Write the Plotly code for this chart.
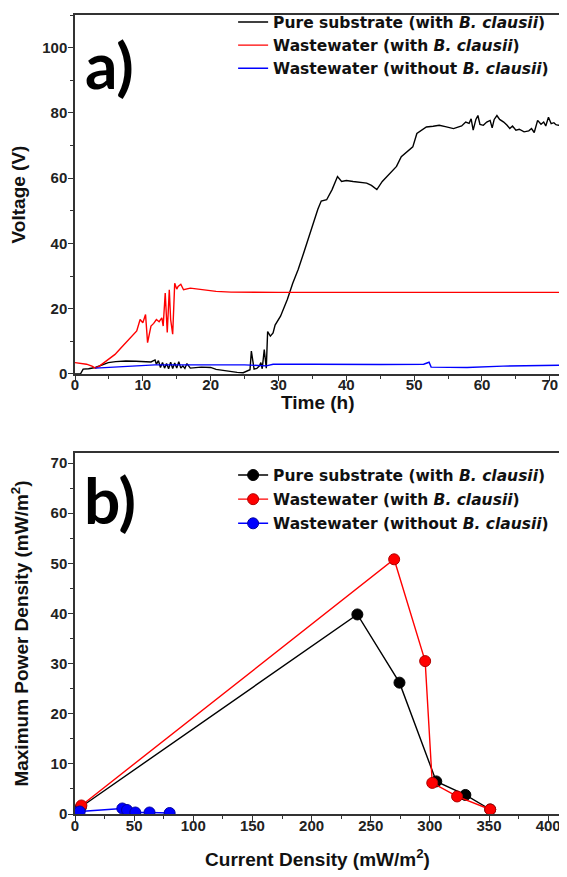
import plotly.graph_objects as go

# ---------- Panel a) : Voltage vs time ----------
t_pure = [0, 0.8, 1.2, 2, 3, 4, 4.9, 6, 7.5, 9, 10.2, 11.2, 11.8, 12.0, 12.3, 12.6, 12.9, 13.2, 13.5, 13.8,
          14.1, 14.4, 14.7, 15.0, 15.3, 15.6, 15.9, 16.2, 16.5, 17, 18.6, 20, 20.8, 22, 23.9, 24.8, 25.4,
          25.6, 25.8, 26.0, 26.4, 26.8, 27.2, 27.4, 27.6, 27.9, 28.1, 28.2, 28.4, 28.8, 29.2, 29.5, 30.3,
          31.3, 32.1, 32.9, 33.7, 34.5, 35.2, 35.8, 36.3, 37.1, 37.9, 38.7, 39.3, 40, 41, 42.1, 43, 43.7,
          44.5, 45.3, 46.1, 47.4, 48.1, 48.8, 49.8, 50.4, 50.9, 51.8, 52.8, 53.7, 54.6, 55.8, 57, 57.6,
          58.1, 58.4, 58.7, 59.1, 59.4, 59.7, 60.2, 60.7, 61.2, 61.5, 61.8, 62.2, 62.6, 63.2, 63.7, 64.1,
          64.5, 65.0, 65.5, 66.2, 66.9, 67.3, 67.7, 68.2, 68.7, 69.1, 69.4, 69.8, 70.2, 70.6, 70.9, 71.3, 71.45]
v_pure = [0, 0, 1.5, 1.6, 2.0, 2.8, 3.5, 3.8, 4.0, 3.9, 3.8, 3.7, 4.3, 3.0, 4.1, 2.0, 3.5, 1.8, 3.2, 1.6,
          3.6, 1.7, 3.4, 1.8, 3.8, 1.8, 2.5, 1.7, 3.2, 1.8, 2.1, 2.0, 1.4, 1.0, 0.5, 0.4, 1.0, 1.2,
          1.3, 7.0, 1.5, 1.7, 2.5, 3.5, 1.6, 7.5, 2.0, 1.8, 13.0, 11.6, 12.6, 15.0, 17.7, 22.8,
          27.8, 32.0, 37.0, 42.0, 47.0, 50.5, 53.0, 53.4, 56.5, 60.5, 59.0, 59.3, 59.0, 58.8, 58.5, 57.8, 56.5,
          59.0, 60.8, 63.6, 66.6, 67.8, 69.6, 73.7, 74.5, 75.7, 75.9, 76.2, 75.8, 75.2, 76.0, 77.2, 76.8,
          78.2, 74.7, 78.0, 79.2, 76.5, 76.2, 77.2, 77.7, 75.4, 78.0, 79.2, 78.0, 77.2, 76.2, 75.2, 76.0,
          74.7, 75.0, 74.2, 74.5, 75.2, 74.0, 77.7, 76.5, 77.2, 76.0, 78.7, 76.7, 77.0, 76.4, 76.2, 76.4, 70.6]

t_ww = [0, 1.0, 1.7, 2.5, 3.0, 3.6, 4.3, 5.1, 5.9, 6.7, 7.5, 8.3, 9.1, 9.6, 10.0, 10.4, 10.7, 11.2, 11.6,
        12.0, 12.4, 12.8, 13.0, 13.3, 13.6, 13.9, 14.1, 14.4, 14.7, 15.0, 15.2, 15.6, 16.0, 17.0, 18.6,
        20.8, 23.0, 26.0, 30.0, 40.0, 50.0, 58.0, 62.0, 66.0, 71.5]
v_ww = [3.5, 3.2, 3.0, 2.4, 1.8, 2.4, 3.5, 4.8, 6.0, 7.8, 9.6, 11.5, 13.2, 16.7, 15.7, 18.2, 9.6, 14.7, 15.5,
        16.7, 16.0, 17.2, 14.7, 24.8, 12.7, 25.8, 16.7, 12.2, 27.8, 26.0, 26.8, 27.5, 25.8, 26.3, 25.8,
        25.3, 25.1, 25.0, 25.0, 25.0, 25.0, 25.2, 25.1, 25.2, 25.0]

t_ctrl = [3.0, 4.9, 7.0, 9.1, 11.8, 15.5, 20, 25, 28.2, 29.2, 35, 40, 45, 51.4, 52.2, 52.5, 55, 57.8, 63.1, 67, 71.5]
v_ctrl = [1.8, 2.0, 2.2, 2.5, 2.8, 2.8, 2.8, 2.8, 2.5, 3.0, 3.0, 2.9, 2.9, 3.0, 3.6, 2.1, 2.1, 2.0, 2.4, 2.5, 2.7]

# ---------- Panel b) : Power density vs current density ----------
cd_pure = [5, 238.7, 274.3, 305.4, 330, 351]
pd_pure = [1.4, 39.8, 26.2, 6.5, 3.8, 0.9]

cd_ww = [5.4, 269.8, 296, 302, 323, 351]
pd_ww = [1.7, 50.8, 30.5, 6.2, 3.5, 0.9]

cd_ctrl = [0, 4, 40, 44, 51, 63, 80]
pd_ctrl = [0.3, 0.5, 1.1, 0.8, 0.3, 0.3, 0.2]

names = ["Pure substrate (with <i>B. clausii</i>)",
         "Wastewater (with <i>B. clausii</i>)",
         "Wastewater (without <i>B. clausii</i>)"]
colors = ["#000000", "#ff0000", "#0000ff"]
edge = ["#000000", "#b00000", "#0000a0"]

FONT = "Liberation Sans, Arial, sans-serif"
LEGFONT = "DejaVu Sans, Verdana, sans-serif"

fig = go.Figure()

for tx, vy, nm, c in zip([t_pure, t_ww, t_ctrl], [v_pure, v_ww, v_ctrl], names, colors):
    fig.add_trace(go.Scatter(x=tx, y=vy, mode="lines", name=nm, line=dict(color=c, width=1.4),
                             xaxis="x", yaxis="y", legend="legend"))

for i, (cx, py, nm, c, e) in enumerate(zip([cd_pure, cd_ww, cd_ctrl], [pd_pure, pd_ww, pd_ctrl], names, colors, edge)):
    fig.add_trace(go.Scatter(x=cx, y=py, mode="lines+markers", name=nm,
                             line=dict(color=c, width=1.4),
                             marker=dict(color=c, size=11, line=dict(color=e, width=1)),
                             xaxis="x2", yaxis="y2", legend="legend2", legendgroup=f"g{i}"))

axis_common = dict(showline=True, linecolor="#333333", linewidth=1.5, mirror=True,
                   ticks="outside", ticklen=5, tickwidth=1.2, tickcolor="#333333",
                   showgrid=False, zeroline=False, automargin=False,
                   tickfont=dict(family=FONT, size=15, color="#222222", weight="bold"),
                   title_font=dict(family=FONT, size=19, color="#111111", weight="bold"))
minor_common = dict(ticks="outside", ticklen=3, tickcolor="#333333", tickwidth=1.2)

# The page body adds an 8px offset; margins are set so the plot areas land where the reference has them.
fig.update_layout(
    template="none",
    width=559, height=869,
    margin=dict(l=67, r=7, t=7, b=63, autoexpand=False),
    paper_bgcolor="white", plot_bgcolor="white",
    showlegend=True,
    xaxis=dict(domain=[0, 1], anchor="y", range=[0, 71.5], dtick=10, tick0=0,
               minor=dict(dtick=5, **minor_common), ticklabelstandoff=-9, **axis_common),
    yaxis=dict(domain=[0.5507, 1], anchor="x", range=[0, 110], dtick=20, tick0=0,
               minor=dict(dtick=10, **minor_common), ticklabelstandoff=-2,
               title=dict(text="Voltage (V)", standoff=14), **axis_common),
    xaxis2=dict(domain=[0, 1], anchor="y2", range=[0, 410], dtick=50, tick0=0,
                minor=dict(dtick=25, **minor_common), ticklabelstandoff=-8,
                title=dict(text="Current Density (mW/m<sup>2</sup>)", standoff=20), **axis_common),
    yaxis2=dict(domain=[0, 0.4518], anchor="x2", range=[0, 72], dtick=10, tick0=0,
                minor=dict(dtick=5, **minor_common), ticklabelstandoff=-2,
                title=dict(text="Maximum Power Density (mW/m<sup>2</sup>)", standoff=22), **axis_common),
    legend=dict(x=0.326, y=1.012, xanchor="left", yanchor="top", bgcolor="rgba(0,0,0,0)",
                font=dict(family=LEGFONT, size=15.5, color="#111111", weight="bold"),
                tracegroupgap=0, itemwidth=30),
    legend2=dict(x=0.326, y=0.445, xanchor="left", yanchor="top", bgcolor="rgba(0,0,0,0)",
                 font=dict(family=LEGFONT, size=15.5, color="#111111", weight="bold"),
                 tracegroupgap=1, itemwidth=30),
    annotations=[
        dict(text="<b>Time (h)</b>", x=0.5, y=0.5507, xref="paper", yref="paper", showarrow=False,
             xanchor="center", yanchor="top", yshift=-16,
             font=dict(family=FONT, size=19, color="#111111")),
        dict(text="<b>a)</b>", x=0.072, y=0.9375, xref="paper", yref="paper", showarrow=False,
             xanchor="center", yanchor="middle", font=dict(family="Lato, Open Sans, sans-serif", size=64, color="#000")),
        dict(text="<b>b)</b>", x=0.072, y=0.394, xref="paper", yref="paper", showarrow=False,
             xanchor="center", yanchor="middle", font=dict(family="Lato, Open Sans, sans-serif", size=64, color="#000")),
    ],
)

fig.write_html("out.html")
